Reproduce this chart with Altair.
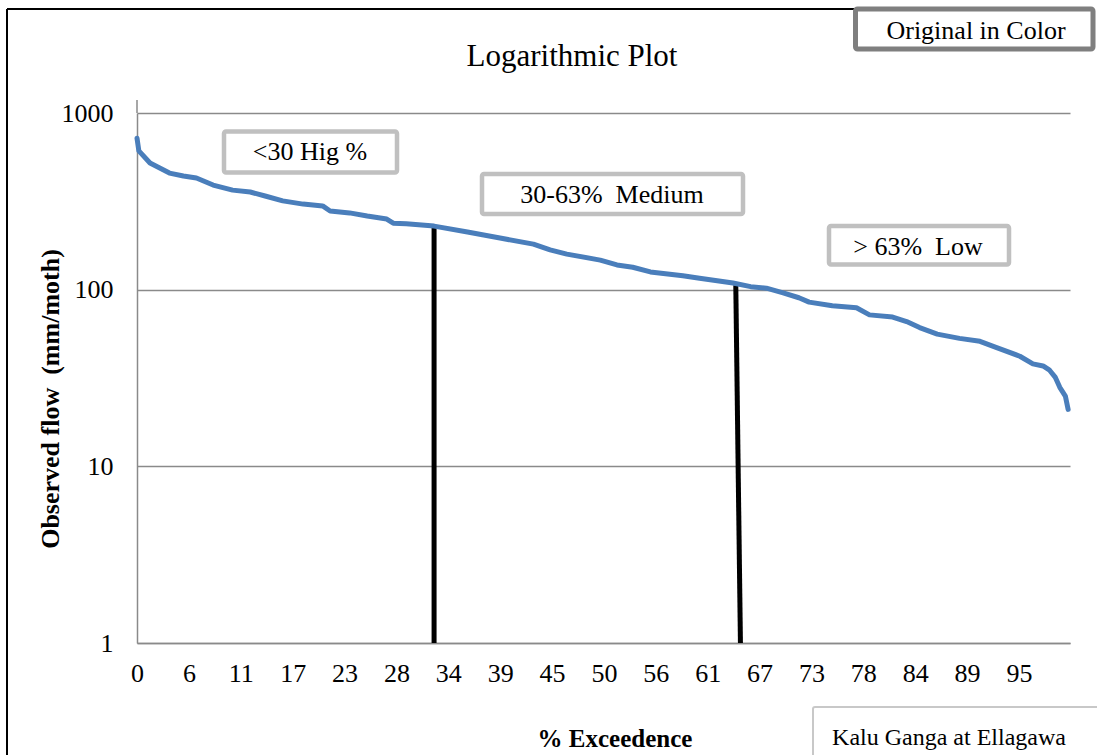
import json
import altair as alt
import pandas as pd

SERIF = "Liberation Serif"

# Flow duration curve: % of time a monthly flow is exceeded vs observed flow (mm/month)
exceedance = [0.0, 0.2, 1.4, 3.5, 5.0, 6.4, 8.2, 10.3, 12.2, 13.8, 15.7, 17.9, 20.0, 20.8,
              22.9, 24.8, 26.9, 27.6, 29.0, 32.0, 35.6, 39.1, 42.7, 44.5, 46.3, 49.9, 51.7,
              53.4, 55.3, 58.8, 60.6, 64.2, 66.1, 67.8, 69.6, 71.3, 72.4, 74.9, 77.5, 78.9,
              81.4, 82.9, 84.3, 86.2, 88.6, 90.8, 92.6, 95.1, 96.5, 97.6, 98.3, 98.9, 99.4,
              100.0, 100.3]
flow = [720, 610, 521, 457, 440, 429, 391, 366, 357, 339, 318, 305, 298, 279,
        272, 261, 251, 238, 236, 229, 212, 196, 181, 168, 159, 147, 138,
        134, 126, 120, 116, 109, 104, 102, 96, 90, 85, 81, 79, 72,
        70, 66, 61, 56, 53, 51, 47, 42, 38, 37, 35, 32, 28,
        25, 21]

# Category-style labels on the exceedance axis
x_labels = ["0", "6", "11", "17", "23", "28", "34", "39", "45", "50", "56", "61",
            "67", "73", "78", "84", "89", "95"]
y_ticks = [1, 10, 100, 1000]

# Boundaries between the high / medium / low flow zones
divider_top_pct = [32.0, 64.5]
divider_bottom_pct = [32.0, 65.0]
divider_top_flow = [229, 106]
divider_bottom_flow = [1, 1]

curve_df = pd.DataFrame({"pct": exceedance, "flow": flow})
div_df = pd.DataFrame({"pct": divider_top_pct, "x_bot": divider_bottom_pct,
                       "flow": divider_top_flow, "y_bot": divider_bottom_flow})
one = pd.DataFrame({"k": [0]})

W, H = 933, 530
GRID = "#8a8a8a"

step = 95 / (len(x_labels) - 1)
tick_vals = [i * step for i in range(len(x_labels))]
label_expr = f"{json.dumps(x_labels)}[round(datum.value / {step})]"

xscale = alt.Scale(domain=[0, 100.5], nice=False, zero=False)
yscale = alt.Scale(type="log", domain=[1, 1000], nice=False)

x_axis = alt.Axis(values=tick_vals, labelExpr=label_expr, grid=False, ticks=False,
                  domainColor=GRID, domainWidth=1.5, labelFontSize=26,
                  labelPadding=17, title=None, labelFlush=False, labelOverlap=False)
y_axis = alt.Axis(values=y_ticks, format="d", grid=True, gridColor=GRID,
                  gridWidth=1.5, ticks=False, domainColor=GRID, domainWidth=1.5,
                  labelFontSize=26, labelPadding=24, title=None)

curve = alt.Chart(curve_df).mark_line(
    color="#4a7ebb", strokeWidth=5, strokeJoin="round", strokeCap="round"
).encode(
    x=alt.X("pct:Q", scale=xscale, axis=x_axis),
    y=alt.Y("flow:Q", scale=yscale, axis=y_axis),
)

dividers = alt.Chart(div_df).mark_rule(color="black", strokeWidth=5).encode(
    x=alt.X("pct:Q", scale=xscale, axis=x_axis),
    x2="x_bot:Q",
    y=alt.Y("flow:Q", scale=yscale, axis=y_axis),
    y2="y_bot:Q",
)


def rule(x1, y1, x2, y2, color, width):
    return alt.Chart(one).mark_rule(color=color, strokeWidth=width).encode(
        x=alt.value(x1), y=alt.value(y1), x2=alt.value(x2), y2=alt.value(y2))


def box(x1, x2, y1, y2, stroke, width):
    return alt.Chart(one).mark_rect(fill="white", stroke=stroke, strokeWidth=width,
                                    cornerRadius=2).encode(
        x=alt.value(x1), x2=alt.value(x2), y=alt.value(y1), y2=alt.value(y2))


def label(txt, x, y, size, bold=False, angle=0, baseline="middle"):
    return alt.Chart(one).mark_text(
        text=txt, font=SERIF, fontSize=size, fontWeight="bold" if bold else "normal",
        color="black", align="center", baseline=baseline, angle=angle,
    ).encode(x=alt.value(x), y=alt.value(y))


layers = [
    dividers,
    curve,
    # outer frame and axis extension
    rule(-130, -104, -130, 650, "black", 2),
    rule(-130, -104, 720, -104, "black", 2),
    rule(0, -13, 0, 0, GRID, 1.5),
    # zone boxes
    box(87, 260, 18.5, 59.5, "#c0c0c0", 4.5),
    label("<30 Hig %", 173, 39, 26),
    box(345, 606, 61, 101, "#c0c0c0", 4.5),
    label("30-63%\u00a0\u00a0Medium", 475, 82, 26),
    box(692, 872, 113, 151.5, "#c0c0c0", 4.5),
    label(">\u00a063%\u00a0\u00a0Low", 781, 134, 26),
    # header / footer
    label("Logarithmic Plot", 435, -47, 31, baseline="alphabetic"),
    box(718.5, 956, -104, -64, "#7f7f7f", 5),
    label("Original in Color", 839, -82, 26),
    box(676, 975, 594, 660, "#c8c8c8", 2),
    label("Kalu Ganga at Ellagawa", 812, 625, 24),
    # axis titles
    label("% Exceedence", 478, 634, 25, bold=True, baseline="alphabetic"),
    label("Observed flow\u00a0\u00a0(mm/moth)", -78, 286, 26, bold=True, angle=270,
          baseline="alphabetic"),
]

chart = alt.layer(*layers).properties(
    width=W, height=H,
    autosize=alt.AutoSizeParams(type="none"),
    padding={"left": 137, "top": 113, "right": 27, "bottom": 112},
    background="white",
).configure_view(stroke=None).configure_axis(
    labelFont=SERIF, labelColor="black"
)

chart.save("out.html", embed_options={"renderer": "svg", "actions": False})
